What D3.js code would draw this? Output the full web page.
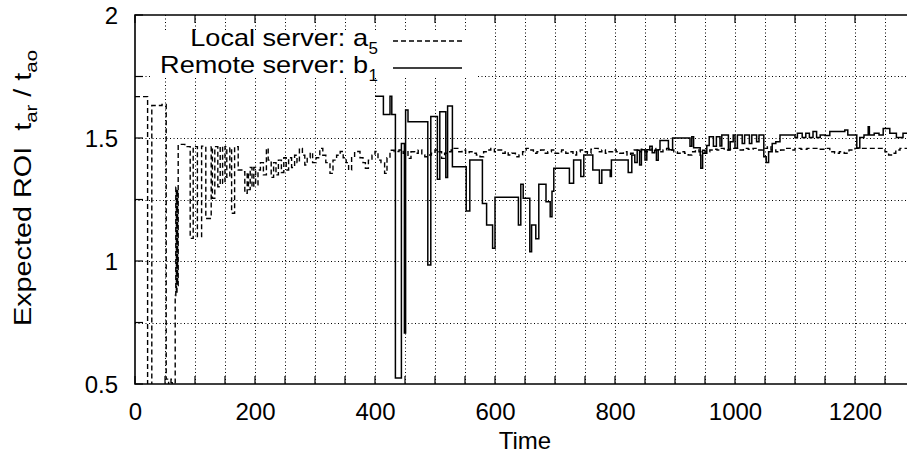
<!DOCTYPE html>
<html>
<head>
<meta charset="utf-8">
<script src="https://cdn.jsdelivr.net/npm/d3@7"></script>
<style>
  html, body { margin: 0; padding: 0; background: #fff; }
  svg { display: block; font-family: "Liberation Sans", Arial, Helvetica, sans-serif; }
  text { white-space: pre; }
</style>
</head>
<body>
<svg id="chart" width="907" height="454"></svg>
<script>
// Local server a5 (dashed) - time / expected ROI, step data
const localTime = [0, 21, 28, 45, 52, 56, 60, 62, 67, 68, 69, 70, 71, 72, 83, 92, 97, 104, 111, 118, 127, 129, 133, 138, 142, 146, 150, 153, 158, 161, 166, 172, 178, 183, 187,
  189, 192, 195, 198, 201, 205, 209, 214, 219, 222, 227, 231, 235, 239, 244, 248, 252, 256, 261, 266, 270, 274, 279, 283, 287, 292, 296, 302, 308, 313, 318, 325, 330, 336,
  342, 347, 352, 356, 361, 366, 370, 375, 380, 384, 389, 395, 400, 405, 410, 416, 420, 425, 432, 440, 447, 452, 455, 460, 466, 472, 478, 483, 488, 494, 500, 505, 511, 516,
  521, 527, 532, 538, 545, 551, 557, 563, 569, 575, 581, 587, 593, 599, 605, 611, 617, 622, 628, 634, 640, 646, 652, 658, 664, 670, 676, 682, 688, 694, 700, 706, 711, 718,
  724, 730, 736, 742, 748, 754, 760, 766, 772, 778, 784, 790, 796, 802, 808, 814, 820, 826, 832, 838, 844, 850, 856, 862, 868, 874, 880, 886, 892, 898, 904, 910, 916, 922,
  928, 934, 940, 946, 952, 958, 964, 970, 976, 982, 990, 998, 1006, 1014, 1022, 1030, 1038, 1046, 1054, 1060, 1068, 1076, 1084, 1092, 1100, 1110, 1120, 1130, 1140, 1150,
  1158, 1166, 1174, 1182, 1190, 1200, 1210, 1220, 1230, 1240, 1250, 1256, 1262, 1268, 1275, 1300]
const localRoi = [1.668, 0.30, 1.632, 1.636, 0.52, 0.30, 0.52, 0.30, 0.86, 1.30, 0.87, 1.29, 0.90, 1.474, 1.465, 1.092, 1.465, 1.099, 1.467, 1.173, 1.465, 1.255, 1.465, 1.302, 1.465, 1.316, 1.465, 1.34, 1.46, 1.194, 1.465, 1.37, 1.363, 1.275, 1.36,
  1.29, 1.38, 1.30, 1.38, 1.31, 1.37, 1.40, 1.35, 1.458, 1.41, 1.34, 1.40, 1.35, 1.41, 1.36, 1.42, 1.37, 1.42, 1.38, 1.43, 1.40, 1.458, 1.43, 1.39, 1.42, 1.44, 1.40, 1.42, 1.458, 1.43, 1.40, 1.356, 1.41, 1.43,
  1.445, 1.42, 1.40, 1.37, 1.42, 1.44, 1.445, 1.42, 1.40, 1.377, 1.41, 1.43, 1.445, 1.41, 1.40, 1.356, 1.42, 1.45, 1.445, 1.451, 1.438, 1.444, 1.417, 1.444, 1.438, 1.451, 1.431, 1.424, 1.431, 1.438, 1.451, 1.444, 1.417, 1.438,
  1.444, 1.451, 1.458, 1.444, 1.451, 1.438, 1.444, 1.438, 1.431, 1.424, 1.444, 1.451, 1.458, 1.444, 1.451, 1.438, 1.444, 1.431, 1.438, 1.424, 1.431, 1.444, 1.458, 1.451, 1.438, 1.444, 1.451, 1.438, 1.444, 1.451, 1.438, 1.444, 1.451, 1.438,
  1.444, 1.431, 1.444, 1.451, 1.444, 1.438, 1.454, 1.458, 1.444, 1.451, 1.438, 1.444, 1.451, 1.444, 1.438, 1.444, 1.431, 1.438, 1.451, 1.444, 1.454, 1.444, 1.451, 1.458, 1.451, 1.444, 1.451, 1.458, 1.451, 1.444, 1.438, 1.444, 1.438, 1.431,
  1.444, 1.451, 1.444, 1.438, 1.444, 1.451, 1.454, 1.451, 1.458, 1.451, 1.454, 1.458, 1.451, 1.458, 1.454, 1.458, 1.451, 1.458, 1.465, 1.451, 1.444, 1.451, 1.458, 1.451, 1.458, 1.454, 1.458, 1.458, 1.454, 1.458,
  1.444, 1.438, 1.444, 1.438, 1.451, 1.458, 1.458, 1.458, 1.458, 1.458, 1.444, 1.431, 1.438, 1.451, 1.458, 1.458]

// Remote server b1 (solid)
const remoteTime = [400, 414, 425, 428, 434, 444, 449, 451, 455, 488, 493, 504, 508, 518, 521, 529, 552, 558, 579, 586, 596, 600, 639, 643, 647, 658, 661, 668, 673, 685, 692, 695, 698,
  724, 731, 743, 748, 763, 774, 778, 792, 794, 822, 828, 833, 837, 841, 844, 850, 853, 858, 862, 866, 869, 872, 875, 889, 896, 925, 928, 931, 942, 943, 946, 950, 953, 957, 964, 969,
  975, 978, 989, 992, 997, 1000, 1004, 1012, 1016, 1024, 1028, 1036, 1040, 1048, 1052, 1056, 1062, 1068, 1075, 1100, 1104, 1112, 1118, 1124, 1130, 1136, 1142, 1150, 1158, 1183, 1188,
  1203, 1208, 1215, 1222, 1224, 1232, 1240, 1247, 1258, 1269, 1280, 1300]
const remoteRoi = [1.670, 1.596, 1.670, 1.596, 0.524, 1.478, 0.707, 1.614, 1.566, 0.984, 1.587, 1.332, 1.607, 1.339, 1.630, 1.383, 1.203, 1.411, 1.234, 1.146, 1.052, 1.259, 1.146, 1.312, 1.255, 1.038, 1.146, 1.090, 1.312, 1.241, 1.180, 1.284, 1.377,
  1.316, 1.411, 1.344, 1.431, 1.370, 1.316, 1.370, 1.344, 1.411, 1.360, 1.431, 1.400, 1.450, 1.390, 1.452, 1.411, 1.452, 1.466, 1.440, 1.450, 1.410, 1.452, 1.490, 1.452, 1.500, 1.466, 1.505, 1.460, 1.430, 1.377, 1.450, 1.438, 1.470, 1.505, 1.466, 1.505,
  1.467, 1.512, 1.451, 1.485, 1.512, 1.458, 1.512, 1.478, 1.512, 1.478, 1.512, 1.485, 1.512, 1.424, 1.400, 1.444, 1.478, 1.485, 1.512, 1.502, 1.519, 1.502, 1.519, 1.502, 1.526, 1.502, 1.512, 1.510, 1.526, 1.533, 1.512,
  1.459, 1.502, 1.512, 1.546, 1.512, 1.519, 1.512, 1.539, 1.519, 1.502, 1.519, 1.519]

const xTickValues = [0, 200, 400, 600, 800, 1000, 1200]
const yTickValues = [0.5, 1, 1.5, 2]

const svg = d3.select("#chart")
const plotLeft = 135, plotTop = 15, plotRight = 915, plotBottom = 384

const x = d3.scaleLinear().domain([0, 1300]).range([plotLeft, plotRight])
const y = d3.scaleLinear().domain([0.5, 2]).range([plotBottom, plotTop])

// grid (dotted), every 50 in time and 0.25 in ROI
const grid = svg.append("g").attr("stroke", "#000").attr("stroke-width", 1).attr("stroke-dasharray", "1,2.5")
grid.selectAll(".gx").data(d3.range(50, 1300, 50)).join("line")
  .attr("x1", d => Math.round(x(d)) + 0.5).attr("x2", d => Math.round(x(d)) + 0.5)
  .attr("y1", plotTop).attr("y2", plotBottom)
grid.selectAll(".gy").data([0.75, 1, 1.25, 1.5, 1.75]).join("line")
  .attr("x1", plotLeft).attr("x2", plotRight)
  .attr("y1", d => Math.round(y(d)) + 0.5).attr("y2", d => Math.round(y(d)) + 0.5)

// legend box hides grid behind it
svg.append("rect").attr("x", 152).attr("y", 31).attr("width", 325).attr("height", 47).attr("fill", "#fff")

// clip the data lines to the plot frame
svg.append("clipPath").attr("id", "plotClip").append("rect")
  .attr("x", plotLeft).attr("y", plotTop).attr("width", plotRight - plotLeft).attr("height", plotBottom - plotTop)

const line = d3.line().x(d => x(d[0])).y(d => y(d[1])).curve(d3.curveStepAfter)

const plot = svg.append("g").attr("clip-path", "url(#plotClip)")
plot.append("path").datum(d3.zip(localTime, localRoi))
  .attr("d", line).attr("fill", "none").attr("stroke", "#000")
  .attr("stroke-width", 1.4).attr("stroke-dasharray", "5,3")
plot.append("path").datum(d3.zip(remoteTime, remoteRoi))
  .attr("d", line).attr("fill", "none").attr("stroke", "#000").attr("stroke-width", 1.5)

// axes (labels only, ticks drawn below)
const xAxis = d3.axisBottom(x).tickValues(xTickValues).tickSize(0).tickPadding(19).tickFormat(d3.format("d"))
const yAxis = d3.axisLeft(y).tickValues(yTickValues).tickSize(0).tickPadding(17).tickFormat(d => d)

svg.append("g").attr("transform", `translate(0,${plotBottom})`).call(xAxis)
  .call(g => g.select(".domain").remove())
  .call(g => g.selectAll("text").attr("font-size", 24).attr("fill", "#000").attr("font-family", null).attr("dy", "0.72em"))
svg.append("g").attr("transform", `translate(${plotLeft},0)`).call(yAxis)
  .call(g => g.select(".domain").remove())
  .call(g => g.selectAll("text").attr("font-size", 24).attr("fill", "#000").attr("font-family", null).attr("dy", "0.36em"))

// tick marks
const ticks = svg.append("g").attr("stroke", "#000").attr("stroke-width", 1.2)
ticks.selectAll(".tb").data(d3.range(0, 1300, 50)).join("line")
  .attr("x1", d => x(d)).attr("x2", d => x(d)).attr("y1", plotBottom).attr("y2", plotBottom - 8)
ticks.selectAll(".tt").data(d3.range(0, 1300, 100)).join("line")
  .attr("x1", d => x(d)).attr("x2", d => x(d)).attr("y1", plotTop).attr("y2", plotTop + 8)
ticks.selectAll(".tl").data([0.5, 0.75, 1, 1.25, 1.5, 1.75, 2]).join("line")
  .attr("x1", plotLeft).attr("x2", plotLeft + 8).attr("y1", d => y(d)).attr("y2", d => y(d))

// frame
svg.append("path").attr("d", `M${plotRight},${plotTop}H${plotLeft}V${plotBottom}H${plotRight}`)
  .attr("fill", "none").attr("stroke", "#000").attr("stroke-width", 1.6)

// axis titles
svg.append("text").attr("x", 525).attr("y", 449).attr("text-anchor", "middle").attr("font-size", 24).text("Time")

// y title is a bit wider than the plain font, like the original
const yl = svg.append("text").attr("transform", "translate(31,188) rotate(-90) scale(1.2,1)")
  .attr("text-anchor", "middle").attr("font-size", 24)
yl.append("tspan").text("Expected ROI  t")
yl.append("tspan").attr("dy", 6).attr("font-size", 17).text("ar")
yl.append("tspan").attr("dy", -6).text(" / t")
yl.append("tspan").attr("dy", 6).attr("font-size", 17).text("ao")

// legend
const legend = [
  {label: "Local server: a", sub: "5", dash: "5,3", y: 46},
  {label: "Remote server: b", sub: "1", dash: null, y: 73}
]
legend.forEach(l => {
  svg.append("text").attr("transform", `translate(368,${l.y}) scale(1.13,1)`)
    .attr("text-anchor", "end").attr("font-size", 24).text(l.label)
  svg.append("text").attr("x", 368.5).attr("y", l.y + 8).attr("font-size", 17).text(l.sub)
  svg.append("line").attr("x1", 393).attr("x2", 462).attr("y1", l.y - 5).attr("y2", l.y - 5)
    .attr("stroke", "#000").attr("stroke-width", l.dash ? 1.4 : 1.5).attr("stroke-dasharray", l.dash)
})
</script>
</body>
</html>
